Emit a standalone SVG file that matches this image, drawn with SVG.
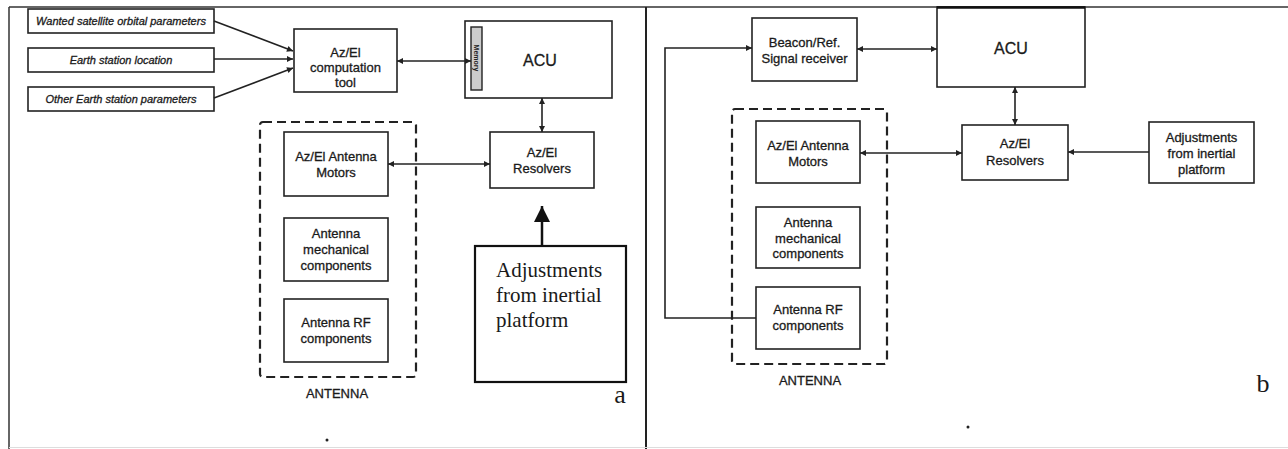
<svg xmlns="http://www.w3.org/2000/svg" width="1288" height="449" viewBox="0 0 1288 449">
<style>
.box{fill:#fff;stroke:#222;stroke-width:1.6}
.dash{fill:none;stroke:#222;stroke-width:2.2;stroke-dasharray:9 5}
.t{font-family:"Liberation Sans",Arial,sans-serif;font-size:13px;fill:#1a1a1a;stroke:#1a1a1a;stroke-width:0.3;text-anchor:middle}
.it{font-family:"Liberation Sans",Arial,sans-serif;font-size:11px;font-style:italic;fill:#1a1a1a;stroke:#1a1a1a;stroke-width:0.3;text-anchor:middle}
.big{font-family:"Liberation Sans",Arial,sans-serif;font-size:16px;fill:#1a1a1a;stroke:#1a1a1a;stroke-width:0.3;text-anchor:middle}
.serif{font-family:"Liberation Serif","Times New Roman",serif;font-size:21px;fill:#1a1a1a}
.lbl{font-family:"Liberation Serif","Times New Roman",serif;font-size:26px;fill:#1a1a1a;text-anchor:middle}
.c{fill:none;stroke:#222;stroke-width:1.6}
.frame{fill:none;stroke:#333;stroke-width:1.5}
</style>
<defs>
<marker id="ah" viewBox="0 0 10 10" refX="10" refY="5" markerWidth="8" markerHeight="6" markerUnits="userSpaceOnUse" orient="auto-start-reverse">
<path d="M0,0 L10,5 L0,10 z" fill="#222"/>
</marker>
<marker id="bigah" viewBox="0 0 10 10" refX="10" refY="5" markerWidth="20" markerHeight="16" markerUnits="userSpaceOnUse" orient="auto">
<path d="M0,0 L10,5 L0,10 z" fill="#111"/>
</marker>
</defs>
<rect width="1288" height="449" fill="#fff"/>
<g id="frame">
<line class="frame" x1="9" y1="7" x2="1288" y2="7"/>
<line class="frame" x1="9" y1="7" x2="9" y2="449"/>
<line x1="646" y1="7" x2="646" y2="449" stroke="#222" stroke-width="2"/>
<line x1="9" y1="447.5" x2="1288" y2="447.5" stroke="#ddd" stroke-width="1"/>
</g>
<g id="in-wanted"><rect class="box" x="28" y="9" width="186" height="24"/><text class="it" x="121" y="25">Wanted satellite orbital parameters</text></g>
<g id="in-location"><rect class="box" x="28" y="48" width="186" height="24"/><text class="it" x="121" y="64">Earth station location</text></g>
<g id="in-other"><rect class="box" x="28" y="87" width="186" height="24"/><text class="it" x="121" y="103">Other Earth station parameters</text></g>
<g id="comp-tool"><rect class="box" x="294" y="29" width="103" height="63"/>
<text class="t" x="345.5" y="56.5">Az/El</text><text class="t" x="345.5" y="71.5">computation</text><text class="t" x="345.5" y="86.5">tool</text></g>
<g id="acu-a"><rect class="box" x="465" y="21" width="147" height="77"/>
<rect x="471" y="27" width="11" height="63" fill="#ccc" stroke="#222" stroke-width="1.4"/>
<text transform="translate(476.5,58) rotate(90)" font-family="'Liberation Sans',Arial,sans-serif" font-size="7" font-weight="bold" fill="#222" text-anchor="middle" dominant-baseline="central">Memory</text>
<text class="big" x="540" y="65.5">ACU</text></g>
<g id="antenna-a"><rect class="dash" x="260" y="122" width="156" height="255" rx="3"/>
<text class="t" x="337" y="398" font-size="14">ANTENNA</text></g>
<g id="motors-a"><rect class="box" x="284" y="132" width="104" height="64"/>
<text class="t" x="336" y="160.5">Az/El Antenna</text><text class="t" x="336" y="176.5">Motors</text></g>
<g id="mech-a"><rect class="box" x="284" y="218" width="104" height="63"/>
<text class="t" x="336" y="237.5">Antenna</text><text class="t" x="336" y="253.5">mechanical</text><text class="t" x="336" y="270">components</text></g>
<g id="rf-a"><rect class="box" x="284" y="299" width="104" height="63"/>
<text class="t" x="336" y="326.5">Antenna RF</text><text class="t" x="336" y="342.5">components</text></g>
<g id="resolvers-a"><rect class="box" x="490" y="132" width="104" height="56"/>
<text class="t" x="542" y="156.5">Az/El</text><text class="t" x="542" y="172.5">Resolvers</text></g>
<g id="adjust-a"><rect x="475" y="246" width="151" height="136" fill="#fff" stroke="#111" stroke-width="2.2"/>
<text class="serif" x="496" y="277">Adjustments</text><text class="serif" x="496" y="302">from inertial</text><text class="serif" x="496" y="327">platform</text></g>
<text class="lbl" x="620" y="403">a</text>
<circle cx="327" cy="440" r="1.5" fill="#222"/>
<g id="beacon"><rect class="box" x="752" y="18" width="105" height="63"/>
<text class="t" x="804.5" y="46.5">Beacon/Ref.</text><text class="t" x="804.5" y="62.5">Signal receiver</text></g>
<g id="acu-b"><rect class="box" x="937" y="7" width="148" height="80"/>
<line x1="937" y1="7.5" x2="1085" y2="7.5" stroke="#111" stroke-width="2.5"/>
<text class="big" x="1011" y="54">ACU</text></g>
<g id="antenna-b"><rect class="dash" x="732" y="109" width="155" height="255" rx="3"/>
<text class="t" x="810" y="385" font-size="14">ANTENNA</text></g>
<g id="motors-b"><rect class="box" x="756" y="121" width="104" height="62"/>
<text class="t" x="808" y="149.5">Az/El Antenna</text><text class="t" x="808" y="165.5">Motors</text></g>
<g id="mech-b"><rect class="box" x="756" y="207" width="104" height="61"/>
<text class="t" x="808" y="226.5">Antenna</text><text class="t" x="808" y="242.5">mechanical</text><text class="t" x="808" y="258">components</text></g>
<g id="rf-b"><rect class="box" x="756" y="287" width="104" height="62"/>
<text class="t" x="808" y="313.5">Antenna RF</text><text class="t" x="808" y="330">components</text></g>
<g id="resolvers-b"><rect class="box" x="962" y="125" width="106" height="55"/>
<text class="t" x="1015" y="147.5">Az/El</text><text class="t" x="1015" y="164.5">Resolvers</text></g>
<g id="adjust-b"><rect class="box" x="1149" y="122" width="105" height="61"/>
<text class="t" x="1201.5" y="141.5">Adjustments</text><text class="t" x="1201.5" y="157.5">from inertial</text><text class="t" x="1201.5" y="173.5">platform</text></g>
<text class="lbl" x="1263" y="392">b</text>
<circle cx="968" cy="427" r="1.5" fill="#222"/>
<g id="connectors">
<line class="c" x1="214" y1="21" x2="293" y2="51" marker-end="url(#ah)"/>
<line class="c" x1="214" y1="59" x2="293" y2="59" marker-end="url(#ah)"/>
<line class="c" x1="214" y1="98" x2="293" y2="68" marker-end="url(#ah)"/>
<line class="c" x1="397" y1="61" x2="471" y2="61" marker-start="url(#ah)" marker-end="url(#ah)"/>
<line class="c" x1="542" y1="98" x2="542" y2="132" marker-start="url(#ah)" marker-end="url(#ah)"/>
<line class="c" x1="388" y1="164" x2="490" y2="164" marker-start="url(#ah)" marker-end="url(#ah)"/>
<line x1="542" y1="246" x2="542" y2="206" stroke="#111" stroke-width="2.5" marker-end="url(#bigah)"/>
<line class="c" x1="857" y1="49" x2="937" y2="49" marker-start="url(#ah)" marker-end="url(#ah)"/>
<polyline class="c" points="756,318 665,318 665,48 752,48" marker-end="url(#ah)"/>
<line class="c" x1="1015" y1="87" x2="1015" y2="125" marker-start="url(#ah)" marker-end="url(#ah)"/>
<line class="c" x1="860" y1="153" x2="962" y2="153" marker-start="url(#ah)" marker-end="url(#ah)"/>
<line class="c" x1="1149" y1="152" x2="1068" y2="152" marker-end="url(#ah)"/>
</g>
</svg>
